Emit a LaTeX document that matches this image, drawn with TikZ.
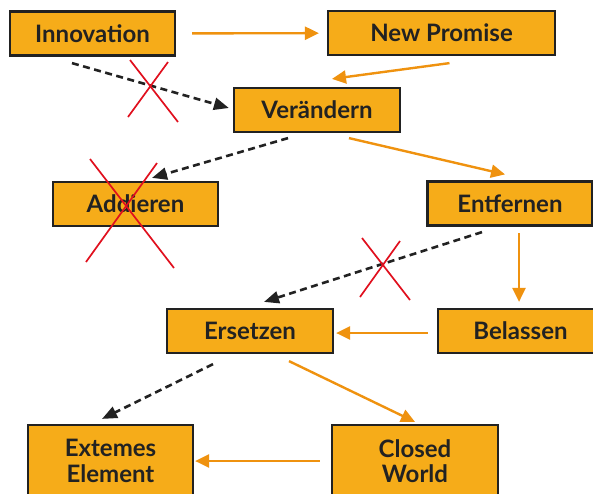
\documentclass[tikz,border=0pt]{standalone}
\usepackage{fontspec}
\setmainfont{Lato}
\usetikzlibrary{arrows.meta}
\definecolor{boxfill}{HTML}{F6AC19}
\definecolor{boxline}{HTML}{222222}
\definecolor{arrorange}{HTML}{EF920F}
\definecolor{crossred}{HTML}{E0101E}
\tikzset{
  box/.style={draw=boxline, line width=2.2pt, fill=boxfill, text=boxline,
    minimum width=165pt, minimum height=44pt, inner sep=0pt, align=center,
    font=\fontsize{24}{25.5}\selectfont\bfseries},
  go/.style={draw=arrorange, line width=2.4pt,
    -{Triangle[length=14pt,width=13pt]}},
  skip/.style={draw=boxline, line width=2.6pt, dash pattern=on 7pt off 4.5pt,
    -{Triangle[length=15pt,width=12pt]}},
  cross/.style={draw=crossred, line width=1.7pt}
}
\begin{document}
\begin{tikzpicture}[x=1pt,y=-1pt]
      \clip (0,0) rectangle (593,493);
      \draw
        (92.5,33.5) node[box] (inn){Innovation}
        (441.5,33) node[box, minimum width=227pt] (np){New Promise}
        (317,110) node[box, minimum width=166pt] (ver){Verändern}
        (135.5,204) node[box] (add){Addieren}
        (510,203.5) node[box] (ent){Entfernen}
        (250,331) node[box, minimum width=166pt] (ers){Ersetzen}
        (520.5,331) node[box] (bel){Belassen}
        (110.5,461) node[box, minimum height=72pt] (ext){Extemes\\Element}
        (415,461) node[box, minimum width=166pt, minimum height=72pt] (cw){Closed\\World};
      \begin{scope}[go]
        \draw[shorten <=16pt, shorten >=8pt] (inn) to (np);
        \draw ([shift={(8,7)}]np.south) to ([shift={(15,-8)}]ver.north);
        \draw ([shift={(32,5)}]ver.south) to ([shift={(-5,-6)}]ent.north);
        \draw ([shift={(9,6.5)}]ent.south) to ([shift={(-1.5,-6)}]bel.north);
        \draw ([shift={(-9,2)}]bel.west) to ([shift={(2,2)}]ers.east);
        \draw ([shift={(39,7)}]ers.south) to ([shift={(0,-2)}]cw.north);
        \draw[shorten <=11pt, shorten >=1pt] (cw) to (ext);
      \end{scope}
      \begin{scope}[skip]
        \draw ([shift={(-20.5,6.5)}]inn.south) to ([shift={(-4,-2)}]ver.west);
        \draw ([shift={(-29,5)}]ver.south) to ([shift={(16.5,-3)}]add.north);
        \draw ([shift={(-28,5.5)}]ent.south) to ([shift={(14,-6)}]ers.north);
        \draw ([shift={(-37,10)}]ers.south) to ([shift={(-8.5,-5)}]ext.north);
      \end{scope}
      \begin{scope}[cross]
        \draw (130,60) -- (178,122) (168,62) -- (128,117);
        \draw (90,159) -- (174,268) (157,163) -- (86,262);
        \draw (362,238) -- (410,300) (400,241) -- (360,297);
      \end{scope}
    \end{tikzpicture}
\end{document}
